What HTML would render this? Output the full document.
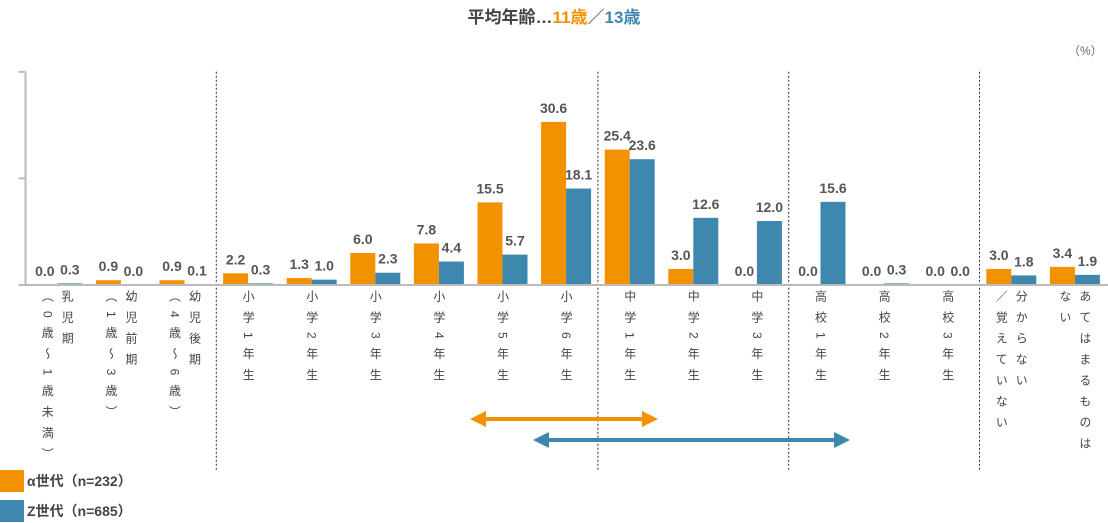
<!DOCTYPE html>
<html><head><meta charset="utf-8">
<style>
body{margin:0;width:1108px;height:523px;background:#fff;overflow:hidden;font-family:"Liberation Sans","Noto Sans CJK JP",sans-serif;}
#wrap{position:relative;width:1108px;height:523px;}
.vl{position:absolute;writing-mode:vertical-rl;font-size:12px;line-height:20px;color:#444;letter-spacing:9px;white-space:pre;}
</style></head><body>
<div id="wrap">
<div style="position:absolute;left:0;width:1108px;top:3px;text-align:center;font-size:17px;font-weight:bold;color:#444;">平均年齢…<span style="color:#F39200">11歳</span><span style="font-weight:normal">／</span><span style="color:#3E87AE">13歳</span></div>
<div style="position:absolute;left:1068px;top:42px;font-size:12px;color:#666;">（%）</div>
<svg id="svg" width="1108" height="523" style="position:absolute;left:0;top:0"></svg>
<div id="labels"></div>
<div style="position:absolute;left:0;top:470px;height:22px;display:flex;align-items:center;font-size:14px;font-weight:bold;color:#444;"><span style="display:inline-block;width:24px;height:22px;background:#F39200;margin-right:3px"></span>α世代（n=232）</div>
<div style="position:absolute;left:0;top:500px;height:22px;display:flex;align-items:center;font-size:14px;font-weight:bold;color:#444;"><span style="display:inline-block;width:24px;height:22px;background:#3E87AE;margin-right:3px"></span>Z世代（n=685）</div>
</div>
<script>
const categories=["乳児期\n（0歳～1歳未満）","幼児前期\n（1歳～3歳）","幼児後期\n（4歳～6歳）","小学1年生","小学2年生","小学3年生","小学4年生","小学5年生","小学6年生","中学1年生","中学2年生","中学3年生","高校1年生","高校2年生","高校3年生","分からない\n／覚えていない","あてはまるものは\nない"];
const alphaValues=[0.0,0.9,0.9,2.2,1.3,6.0,7.8,15.5,30.6,25.4,3.0,0.0,0.0,0.0,0.0,3.0,3.4];
const zValues=[0.3,0.0,0.1,0.3,1.0,2.3,4.4,5.7,18.1,23.6,12.6,12.0,15.6,0.3,0.0,1.8,1.9];
const yTicks=[0,20,40];
const separatorsAfter=[2,8,11,14];
const NS="http://www.w3.org/2000/svg";
const svg=document.getElementById('svg');
const L=25.5,G=63.6,BASE=285,PX=5.33,BW=25;
const x=i=>L+i*G;
const y=v=>BASE-v*PX;
function el(t,a){const e=document.createElementNS(NS,t);for(const k in a)e.setAttribute(k,a[k]);svg.appendChild(e);return e;}
const ax=el('line',{x1:L,y1:y(40),x2:L,y2:BASE,stroke:'#bbb','stroke-width':2});


yTicks.forEach(t=>{const tk=el('line',{x1:L-7,x2:L,y1:y(t),y2:y(t),stroke:'#bbb','stroke-width':2});

});
separatorsAfter.forEach(s=>{const d=el('line',{x1:x(s+1),x2:x(s+1),y1:y(40),y2:470,stroke:'#333','stroke-width':1,'stroke-dasharray':'2,2'});

});
const lab=document.getElementById('labels');
categories.forEach((c,i)=>{
 const cx=x(i)+G/2;
 [[alphaValues[i],'#F39200',cx-BW,'bar-alpha'],[zValues[i],'#3E87AE',cx,'bar-z']].forEach(([v,col,bx,nm])=>{
  const r=el('rect',{x:bx,y:y(v),width:BW,height:v*PX,fill:col});
  
  
  const t=el('text',{x:bx+BW/2,y:y(v)-9,'text-anchor':'middle','font-size':14,'font-weight':'bold',fill:'#555','font-family':'Liberation Sans, sans-serif'});
  t.textContent=v.toFixed(1);
  
  
 });
 const d=document.createElement('div');
 d.className='vl';
 d.textContent=c;
 d.style.top='290px';
 d.style.left=(cx-(c.includes('\n')?20:10))+'px';
 
 
 lab.appendChild(d);
});
const base=el('line',{x1:L,y1:BASE,x2:1108,y2:BASE,stroke:'#bbb','stroke-width':2});


function arrow(x1,x2,yy,col,nm){
 const g=el('g',{});
 
 
 const mk=(t,a)=>{const e=document.createElementNS(NS,t);for(const k in a)e.setAttribute(k,a[k]);g.appendChild(e);};
 mk('line',{x1:x1+10,x2:x2-10,y1:yy,y2:yy,stroke:col,'stroke-width':4});
 mk('polygon',{points:`${x1},${yy} ${x1+16},${yy-8} ${x1+16},${yy+8}`,fill:col});
 mk('polygon',{points:`${x2},${yy} ${x2-16},${yy-8} ${x2-16},${yy+8}`,fill:col});
}
arrow(470,658,419,'#F39200','arrow-alpha');
arrow(533,850,440,'#3E87AE','arrow-z');
</script>
</body></html>
